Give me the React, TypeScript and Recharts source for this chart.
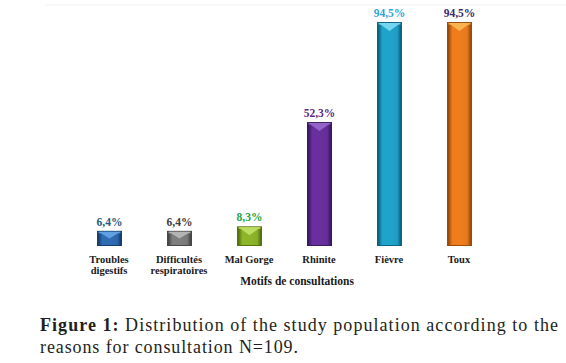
import { BarChart, Bar, XAxis, YAxis, LabelList, Label, Cell } from "recharts";

const categories = [
  "Troubles digestifs",
  "Difficultés respiratoires",
  "Mal Gorge",
  "Rhinite",
  "Fièvre",
  "Toux",
];
const tickLines = [
  ["Troubles", "digestifs"],
  ["Difficultés", "respiratoires"],
  ["Mal Gorge"],
  ["Rhinite"],
  ["Fièvre"],
  ["Toux"],
];
const percents = [6.4, 6.4, 8.3, 52.3, 94.5, 94.5];

// base / dark edge / light top / label colour for each bar
const barColors = ["#2f6cb4", "#7e7e7e", "#8db52a", "#6a2f9f", "#20a3cb", "#ef7d1e"];
const edgeColors = ["#183e6e", "#474747", "#56730f", "#3b1965", "#0d6483", "#9b4b0a"];
const topColors = ["#62a0e4", "#b4b4b4", "#bddc62", "#9264c8", "#74d5f0", "#f9b450"];
const labelColors = ["#1d5c7b", "#3b3b3b", "#1ca64b", "#5a2c8b", "#2ba7d8", "#3b2a6c"];

const data = categories.map((name, i) => ({ name, value: percents[i] }));

const serif = "'Liberation Serif', 'Times New Roman', serif";

const fmt = (v: any) => Number(v).toFixed(1).replace(".", ",") + "%";

function BevelBar(props: any) {
  const { x, y, width, height, index } = props;
  if (!height || height <= 0) return null;
  const id = `g${index}`;
  const cap = Math.min(9, height / 2);
  return (
    <g>
      <defs>
        <linearGradient id={id} x1="0" y1="0" x2="1" y2="0">
          <stop offset="0%" stopColor={edgeColors[index]} />
          <stop offset="18%" stopColor={barColors[index]} />
          <stop offset="55%" stopColor={barColors[index]} />
          <stop offset="85%" stopColor={barColors[index]} stopOpacity={0.9} />
          <stop offset="100%" stopColor={edgeColors[index]} />
        </linearGradient>
      </defs>
      <rect x={x} y={y} width={width} height={height} fill={edgeColors[index]} />
      <rect x={x + 1.5} y={y + 1} width={width - 3} height={height - 2} fill={`url(#${id})`} />
      <polygon
        points={`${x + 1.5},${y + 1} ${x + width - 1.5},${y + 1} ${x + width / 2},${y + cap}`}
        fill={topColors[index]}
      />
      <rect x={x + 1.5} y={y + 1} width={width - 3} height={1.5} fill={topColors[index]} opacity={0.8} />
    </g>
  );
}

function CategoryTick(props: any) {
  const { x, y, payload } = props;
  const lines = tickLines[payload.index] || [payload.value];
  return (
    <text
      x={x}
      y={y}
      textAnchor="middle"
      fontFamily={serif}
      fontWeight="bold"
      fontSize={10.5}
      fill="#1a1a1a"
    >
      {lines.map((l, i) => (
        <tspan key={i} x={x} dy={i === 0 ? 9 : 10.5}>
          {l}
        </tspan>
      ))}
    </text>
  );
}

function ValueLabel(props: any) {
  const { x, y, width, value, index } = props;
  return (
    <text
      x={x + width / 2}
      y={y - 5}
      textAnchor="middle"
      fontFamily={serif}
      fontWeight="bold"
      fontSize={11.5}
      fill={labelColors[index]}
    >
      {fmt(value)}
    </text>
  );
}

export default function App() {
  return (
    <div style={{ position: "absolute", left: 0, top: 0, width: 566, height: 363, background: "#fff" }}>
      <svg width={566} height={363} style={{ position: "absolute", left: 0, top: 0 }}>
        <line x1={45} y1={5} x2={566} y2={5} stroke="#f1f1f1" strokeWidth={1} />
        <text fontFamily={serif} fontSize={18} fill="#231f20">
          <tspan x={40} y={331} textLength={518} lengthAdjust="spacing">
            <tspan fontWeight="bold">Figure 1:</tspan> Distribution of the study population according to the
          </tspan>
          <tspan x={40} y={353} textLength={258} lengthAdjust="spacing">
            reasons for consultation N=109.
          </tspan>
        </text>
      </svg>
      <div style={{ position: "absolute", left: 0, top: 0 }}>
        <BarChart
          width={566}
          height={300}
          data={data}
          margin={{ top: 9, right: 72, left: 74, bottom: 10 }}
        >
          <YAxis hide domain={[0, 100]} />
          <XAxis
            dataKey="name"
            axisLine={false}
            tickLine={false}
            interval={0}
            height={44}
            tick={<CategoryTick />}
          >
            <Label
              value="Motifs de consultations"
              position="insideBottom"
              offset={5}
              dx={13}
              style={{ fontFamily: serif, fontWeight: "bold", fontSize: 11.5, fill: "#1a1a1a" }}
            />
          </XAxis>
          <Bar dataKey="value" barSize={25} shape={<BevelBar />} isAnimationActive={false}>
            {data.map((_, i) => (
              <Cell key={i} fill={barColors[i]} />
            ))}
            <LabelList dataKey="value" content={<ValueLabel />} />
          </Bar>
        </BarChart>
      </div>
    </div>
  );
}
